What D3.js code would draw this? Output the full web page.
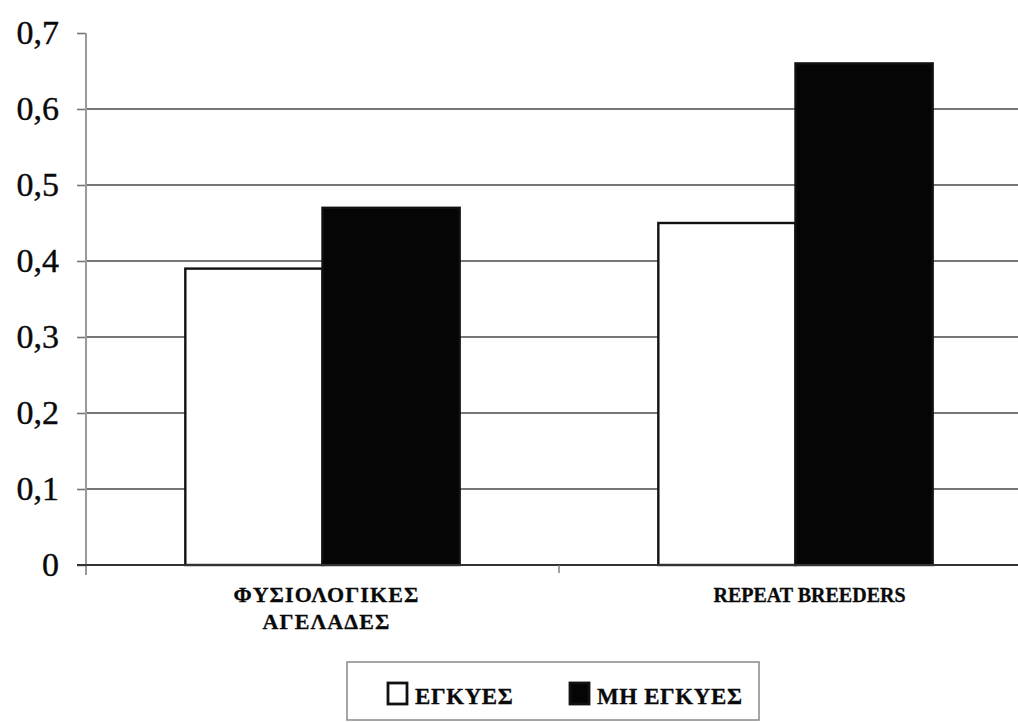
<!DOCTYPE html>
<html>
<head>
<meta charset="utf-8">
<script src="https://cdn.jsdelivr.net/npm/d3@7"></script>
<style>
  html, body { margin: 0; padding: 0; background: #fff; }
  svg { display: block; }
</style>
</head>
<body>
<svg id="chart" width="1018" height="722"></svg>
<script>
// Categories (line breaks mark wrapped labels)
const categories = ["ΦΥΣΙΟΛΟΓΙΚΕΣ\nΑΓΕΛΑΔΕΣ", "REPEAT BREEDERS"];
// Series names and values
const seriesNames = ["ΕΓΚΥΕΣ", "ΜΗ ΕΓΚΥΕΣ"];
const pregnantValues = [0.39, 0.45];
const nonPregnantValues = [0.47, 0.66];
// Value axis ticks and their labels
const yTickValues = [0, 0.1, 0.2, 0.3, 0.4, 0.5, 0.6, 0.7];
const yTickLabels = ["0", "0,1", "0,2", "0,3", "0,4", "0,5", "0,6", "0,7"];

const seriesValues = [pregnantValues, nonPregnantValues];
const seriesFill = ["#ffffff", "#050505"];
const serif = '"Liberation Serif", "Times New Roman", serif';
// Greek capitals are set a little wider than the Latin ones
const isGreek = s => /[\u0370-\u03FF]/.test(s);

const svg = d3.select("#chart");

const plotLeft = 86, plotRight = 1032, plotTop = 33, plotBottom = 565;

const y = d3.scaleLinear().domain([0, 0.7]).range([plotBottom, plotTop]);
const x0 = d3.scaleBand().domain(categories).range([plotLeft, plotRight]).padding(0);
const x1 = d3.scaleBand().domain(seriesNames)
  .range([x0.bandwidth() * 0.21, x0.bandwidth() * 0.79]).padding(0);

// Horizontal gridlines (no line at the top tick)
svg.append("g")
  .selectAll("line")
  .data(yTickValues.filter(v => v > 0 && v < 0.7))
  .join("line")
  .attr("x1", plotLeft).attr("x2", 1018)
  .attr("y1", d => y(d)).attr("y2", d => y(d))
  .attr("stroke", "#4a4a4a").attr("stroke-width", 1.6);

// Value axis
const yAxis = d3.axisLeft(y)
  .tickValues(yTickValues)
  .tickFormat((d, i) => yTickLabels[i])
  .tickSize(9)
  .tickPadding(18);

const gy = svg.append("g").attr("transform", `translate(${plotLeft},0)`).call(yAxis);
gy.select(".domain").remove();
gy.selectAll(".tick line").attr("stroke", "#777").attr("stroke-width", 1.6);
gy.selectAll(".tick text")
  .style("font-family", serif)
  .style("font-size", "34px")
  .attr("fill", "#0a0a0a")
  .attr("stroke", "#0a0a0a")
  .attr("stroke-width", 0.4)
  .attr("dy", "0.32em");

// Axis line (extends slightly below zero)
svg.append("line")
  .attr("x1", plotLeft).attr("x2", plotLeft)
  .attr("y1", y(0.7)).attr("y2", y(0) + 10)
  .attr("stroke", "#9a9a9a").attr("stroke-width", 2);

// Bars
const groups = svg.append("g")
  .selectAll("g")
  .data(categories)
  .join("g")
  .attr("transform", d => `translate(${x0(d)},0)`);

groups.selectAll("rect")
  .data((d, ci) => seriesNames.map((s, si) => ({ s, si, v: seriesValues[si][ci] })))
  .join("rect")
  .attr("x", d => x1(d.s))
  .attr("width", x1.bandwidth())
  .attr("y", d => y(d.v))
  .attr("height", d => y(0) - y(d.v))
  .attr("fill", d => seriesFill[d.si])
  .attr("stroke", "#111")
  .attr("stroke-width", 2.4);

// Baseline
svg.append("line")
  .attr("x1", plotLeft - 9).attr("x2", 1018)
  .attr("y1", y(0)).attr("y2", y(0))
  .attr("stroke", "#333").attr("stroke-width", 1.8);

// Category separators below the baseline
svg.append("g")
  .selectAll("line")
  .data(categories.slice(1))
  .join("line")
  .attr("x1", d => x0(d)).attr("x2", d => x0(d))
  .attr("y1", y(0)).attr("y2", y(0) + 8)
  .attr("stroke", "#777").attr("stroke-width", 1.4);

// Category labels
const catLabels = svg.append("g")
  .selectAll("text")
  .data(categories)
  .join("text")
  .attr("x", (d, i) => x0(d) + x0.bandwidth() / 2 + (i === 0 ? 4 : 14))
  .attr("y", 602)
  .attr("text-anchor", "middle")
  .attr("fill", "#0a0a0a")
  .attr("stroke", "#0a0a0a")
  .attr("stroke-width", 0.3)
  .style("font-family", serif)
  .style("font-size", d => isGreek(d) ? "22px" : "20px")
  .style("letter-spacing", d => isGreek(d) ? "1.1px" : "0px")
  .style("font-weight", "bold");

catLabels.selectAll("tspan")
  .data(d => d.split("\n"))
  .join("tspan")
  .attr("x", function () { return d3.select(this.parentNode).attr("x"); })
  .attr("dy", (d, i) => i === 0 ? 0 : 27)
  .text(d => d);

// Legend
const legend = svg.append("g");
legend.append("rect")
  .attr("x", 347).attr("y", 662)
  .attr("width", 412).attr("height", 58)
  .attr("fill", "#fff")
  .attr("stroke", "#888").attr("stroke-width", 1.5);

const legendX = [387, 569];
const legendItems = legend.selectAll("g.item")
  .data(seriesNames)
  .join("g")
  .attr("class", "item")
  .attr("transform", (d, i) => `translate(${legendX[i]},682)`);

legendItems.append("rect")
  .attr("x", 1).attr("y", 1)
  .attr("width", 19).attr("height", 21)
  .attr("fill", (d, i) => seriesFill[i])
  .attr("stroke", "#111").attr("stroke-width", 2.8);

legendItems.append("text")
  .attr("x", 28)
  .attr("y", 22)
  .attr("fill", "#0a0a0a")
  .attr("stroke", "#0a0a0a")
  .attr("stroke-width", 0.3)
  .style("font-family", serif)
  .style("font-size", "23px")
  .style("letter-spacing", "0.6px")
  .style("font-weight", "bold")
  .text(d => d);
</script>
</body>
</html>
